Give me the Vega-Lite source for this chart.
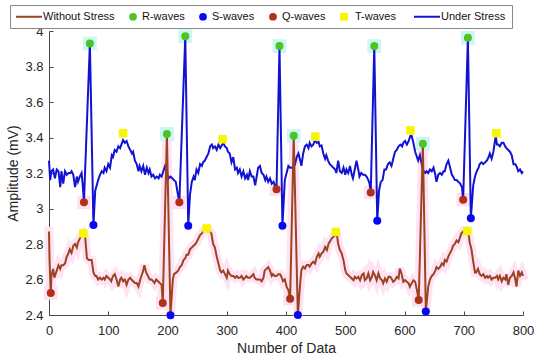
{
  "$schema": "https://vega.github.io/schema/vega-lite/v6.json",
  "width": 474,
  "height": 284,
  "autosize": "none",
  "padding": {"left": 49, "top": 31, "right": 27, "bottom": 45},
  "background": "white",
  "config": {
    "view": {"stroke": null},
    "font": "Liberation Sans",
    "axis": {
      "grid": false,
      "labelFont": "Liberation Sans",
      "titleFont": "Liberation Sans",
      "labelFontSize": 13,
      "titleFontSize": 14,
      "titleFontWeight": "normal",
      "labelColor": "#262626",
      "titleColor": "#262626",
      "domainColor": "#4a4a4a",
      "tickColor": "#4a4a4a",
      "tickSize": -4,
      "labelFlush": false
    }
  },
  "datasets": {
    "lines": [
      {"series":"Under Stress","x":0,"y":3.27},{"series":"Under Stress","x":2,"y":3.16},{"series":"Under Stress","x":4,"y":3.21},{"series":"Under Stress","x":7,"y":3.22},{"series":"Under Stress","x":10,"y":3.17},{"series":"Under Stress","x":13,"y":3.22},{"series":"Under Stress","x":16,"y":3.21},{"series":"Under Stress","x":19,"y":3.12},{"series":"Under Stress","x":21,"y":3.21},{"series":"Under Stress","x":24,"y":3.14},{"series":"Under Stress","x":27,"y":3.21},{"series":"Under Stress","x":30,"y":3.19},{"series":"Under Stress","x":33,"y":3.2},{"series":"Under Stress","x":36,"y":3.2},{"series":"Under Stress","x":38,"y":3.21},{"series":"Under Stress","x":41,"y":3.19},{"series":"Under Stress","x":44,"y":3.12},{"series":"Under Stress","x":47,"y":3.18},{"series":"Under Stress","x":49,"y":3.15},{"series":"Under Stress","x":52,"y":3.18},{"series":"Under Stress","x":55,"y":3.2},{"series":"Under Stress","x":57,"y":3.13},{"series":"Under Stress","x":59,"y":3.035},{"series":"Under Stress","x":69,"y":3.93},{"series":"Under Stress","x":75,"y":2.907},{"series":"Under Stress","x":78,"y":3.1},{"series":"Under Stress","x":83,"y":3.16},{"series":"Under Stress","x":86,"y":3.19},{"series":"Under Stress","x":89,"y":3.21},{"series":"Under Stress","x":92,"y":3.2},{"series":"Under Stress","x":94,"y":3.23},{"series":"Under Stress","x":97,"y":3.21},{"series":"Under Stress","x":100,"y":3.25},{"series":"Under Stress","x":103,"y":3.23},{"series":"Under Stress","x":106,"y":3.3},{"series":"Under Stress","x":108,"y":3.29},{"series":"Under Stress","x":111,"y":3.33},{"series":"Under Stress","x":114,"y":3.32},{"series":"Under Stress","x":117,"y":3.35},{"series":"Under Stress","x":120,"y":3.34},{"series":"Under Stress","x":125,"y":3.386},{"series":"Under Stress","x":128,"y":3.37},{"series":"Under Stress","x":131,"y":3.38},{"series":"Under Stress","x":134,"y":3.35},{"series":"Under Stress","x":137,"y":3.33},{"series":"Under Stress","x":140,"y":3.31},{"series":"Under Stress","x":142,"y":3.32},{"series":"Under Stress","x":145,"y":3.27},{"series":"Under Stress","x":148,"y":3.25},{"series":"Under Stress","x":151,"y":3.21},{"series":"Under Stress","x":153,"y":3.24},{"series":"Under Stress","x":156,"y":3.21},{"series":"Under Stress","x":159,"y":3.24},{"series":"Under Stress","x":162,"y":3.19},{"series":"Under Stress","x":165,"y":3.23},{"series":"Under Stress","x":168,"y":3.2},{"series":"Under Stress","x":170,"y":3.22},{"series":"Under Stress","x":173,"y":3.18},{"series":"Under Stress","x":176,"y":3.19},{"series":"Under Stress","x":179,"y":3.17},{"series":"Under Stress","x":182,"y":3.18},{"series":"Under Stress","x":185,"y":3.17},{"series":"Under Stress","x":187,"y":3.19},{"series":"Under Stress","x":190,"y":3.18},{"series":"Under Stress","x":193,"y":3.21},{"series":"Under Stress","x":196,"y":3.24},{"series":"Under Stress","x":199,"y":3.2},{"series":"Under Stress","x":202,"y":3.17},{"series":"Under Stress","x":205,"y":3.18},{"series":"Under Stress","x":208,"y":3.17},{"series":"Under Stress","x":211,"y":3.16},{"series":"Under Stress","x":214,"y":3.15},{"series":"Under Stress","x":217,"y":3.09},{"series":"Under Stress","x":220,"y":3.035},{"series":"Under Stress","x":230,"y":3.97},{"series":"Under Stress","x":235,"y":2.903},{"series":"Under Stress","x":238,"y":3.08},{"series":"Under Stress","x":241,"y":3.15},{"series":"Under Stress","x":244,"y":3.18},{"series":"Under Stress","x":246,"y":3.16},{"series":"Under Stress","x":249,"y":3.22},{"series":"Under Stress","x":252,"y":3.2},{"series":"Under Stress","x":255,"y":3.25},{"series":"Under Stress","x":258,"y":3.24},{"series":"Under Stress","x":260,"y":3.26},{"series":"Under Stress","x":263,"y":3.27},{"series":"Under Stress","x":266,"y":3.29},{"series":"Under Stress","x":269,"y":3.31},{"series":"Under Stress","x":272,"y":3.35},{"series":"Under Stress","x":275,"y":3.36},{"series":"Under Stress","x":277,"y":3.34},{"series":"Under Stress","x":280,"y":3.35},{"series":"Under Stress","x":283,"y":3.33},{"series":"Under Stress","x":286,"y":3.36},{"series":"Under Stress","x":289,"y":3.34},{"series":"Under Stress","x":294,"y":3.37},{"series":"Under Stress","x":297,"y":3.35},{"series":"Under Stress","x":300,"y":3.34},{"series":"Under Stress","x":302,"y":3.32},{"series":"Under Stress","x":305,"y":3.31},{"series":"Under Stress","x":308,"y":3.26},{"series":"Under Stress","x":311,"y":3.29},{"series":"Under Stress","x":314,"y":3.22},{"series":"Under Stress","x":317,"y":3.23},{"series":"Under Stress","x":319,"y":3.2},{"series":"Under Stress","x":322,"y":3.22},{"series":"Under Stress","x":325,"y":3.18},{"series":"Under Stress","x":328,"y":3.21},{"series":"Under Stress","x":331,"y":3.17},{"series":"Under Stress","x":334,"y":3.19},{"series":"Under Stress","x":336,"y":3.16},{"series":"Under Stress","x":339,"y":3.21},{"series":"Under Stress","x":342,"y":3.18},{"series":"Under Stress","x":345,"y":3.18},{"series":"Under Stress","x":348,"y":3.13},{"series":"Under Stress","x":351,"y":3.19},{"series":"Under Stress","x":353,"y":3.23},{"series":"Under Stress","x":356,"y":3.24},{"series":"Under Stress","x":359,"y":3.2},{"series":"Under Stress","x":362,"y":3.19},{"series":"Under Stress","x":365,"y":3.16},{"series":"Under Stress","x":367,"y":3.18},{"series":"Under Stress","x":370,"y":3.15},{"series":"Under Stress","x":373,"y":3.17},{"series":"Under Stress","x":376,"y":3.14},{"series":"Under Stress","x":379,"y":3.15},{"series":"Under Stress","x":381,"y":3.13},{"series":"Under Stress","x":384,"y":3.108},{"series":"Under Stress","x":389,"y":3.915},{"series":"Under Stress","x":394,"y":2.903},{"series":"Under Stress","x":398,"y":3.16},{"series":"Under Stress","x":401,"y":3.2},{"series":"Under Stress","x":404,"y":3.24},{"series":"Under Stress","x":407,"y":3.23},{"series":"Under Stress","x":410,"y":3.23},{"series":"Under Stress","x":413,"y":3.24},{"series":"Under Stress","x":415,"y":3.245},{"series":"Under Stress","x":418,"y":3.29},{"series":"Under Stress","x":421,"y":3.31},{"series":"Under Stress","x":424,"y":3.27},{"series":"Under Stress","x":426,"y":3.24},{"series":"Under Stress","x":429,"y":3.31},{"series":"Under Stress","x":432,"y":3.35},{"series":"Under Stress","x":435,"y":3.36},{"series":"Under Stress","x":438,"y":3.34},{"series":"Under Stress","x":440,"y":3.37},{"series":"Under Stress","x":443,"y":3.35},{"series":"Under Stress","x":446,"y":3.36},{"series":"Under Stress","x":449,"y":3.386},{"series":"Under Stress","x":452,"y":3.37},{"series":"Under Stress","x":455,"y":3.375},{"series":"Under Stress","x":457,"y":3.35},{"series":"Under Stress","x":460,"y":3.355},{"series":"Under Stress","x":463,"y":3.31},{"series":"Under Stress","x":466,"y":3.28},{"series":"Under Stress","x":468,"y":3.3},{"series":"Under Stress","x":471,"y":3.27},{"series":"Under Stress","x":474,"y":3.25},{"series":"Under Stress","x":477,"y":3.24},{"series":"Under Stress","x":480,"y":3.23},{"series":"Under Stress","x":483,"y":3.22},{"series":"Under Stress","x":485,"y":3.2},{"series":"Under Stress","x":488,"y":3.27},{"series":"Under Stress","x":491,"y":3.21},{"series":"Under Stress","x":494,"y":3.2},{"series":"Under Stress","x":497,"y":3.23},{"series":"Under Stress","x":500,"y":3.19},{"series":"Under Stress","x":502,"y":3.22},{"series":"Under Stress","x":505,"y":3.2},{"series":"Under Stress","x":508,"y":3.24},{"series":"Under Stress","x":511,"y":3.19},{"series":"Under Stress","x":513,"y":3.17},{"series":"Under Stress","x":516,"y":3.22},{"series":"Under Stress","x":519,"y":3.27},{"series":"Under Stress","x":522,"y":3.22},{"series":"Under Stress","x":524,"y":3.18},{"series":"Under Stress","x":527,"y":3.2},{"series":"Under Stress","x":530,"y":3.19},{"series":"Under Stress","x":533,"y":3.19},{"series":"Under Stress","x":536,"y":3.18},{"series":"Under Stress","x":539,"y":3.16},{"series":"Under Stress","x":541,"y":3.14},{"series":"Under Stress","x":543,"y":3.09},{"series":"Under Stress","x":549,"y":3.915},{"series":"Under Stress","x":554,"y":2.931},{"series":"Under Stress","x":557,"y":3.1},{"series":"Under Stress","x":560,"y":3.15},{"series":"Under Stress","x":563,"y":3.16},{"series":"Under Stress","x":566,"y":3.22},{"series":"Under Stress","x":569,"y":3.22},{"series":"Under Stress","x":572,"y":3.25},{"series":"Under Stress","x":575,"y":3.26},{"series":"Under Stress","x":578,"y":3.24},{"series":"Under Stress","x":581,"y":3.28},{"series":"Under Stress","x":584,"y":3.32},{"series":"Under Stress","x":587,"y":3.33},{"series":"Under Stress","x":590,"y":3.35},{"series":"Under Stress","x":593,"y":3.36},{"series":"Under Stress","x":596,"y":3.35},{"series":"Under Stress","x":598,"y":3.37},{"series":"Under Stress","x":601,"y":3.38},{"series":"Under Stress","x":604,"y":3.36},{"series":"Under Stress","x":607,"y":3.38},{"series":"Under Stress","x":610,"y":3.41},{"series":"Under Stress","x":612,"y":3.41},{"series":"Under Stress","x":615,"y":3.37},{"series":"Under Stress","x":618,"y":3.32},{"series":"Under Stress","x":620,"y":3.3},{"series":"Under Stress","x":623,"y":3.27},{"series":"Under Stress","x":626,"y":3.3},{"series":"Under Stress","x":629,"y":3.25},{"series":"Under Stress","x":632,"y":3.21},{"series":"Under Stress","x":635,"y":3.2},{"series":"Under Stress","x":637,"y":3.21},{"series":"Under Stress","x":640,"y":3.2},{"series":"Under Stress","x":643,"y":3.22},{"series":"Under Stress","x":646,"y":3.21},{"series":"Under Stress","x":649,"y":3.23},{"series":"Under Stress","x":652,"y":3.19},{"series":"Under Stress","x":654,"y":3.15},{"series":"Under Stress","x":657,"y":3.19},{"series":"Under Stress","x":660,"y":3.2},{"series":"Under Stress","x":663,"y":3.19},{"series":"Under Stress","x":666,"y":3.21},{"series":"Under Stress","x":668,"y":3.21},{"series":"Under Stress","x":671,"y":3.25},{"series":"Under Stress","x":674,"y":3.27},{"series":"Under Stress","x":677,"y":3.23},{"series":"Under Stress","x":680,"y":3.19},{"series":"Under Stress","x":682,"y":3.18},{"series":"Under Stress","x":685,"y":3.16},{"series":"Under Stress","x":688,"y":3.16},{"series":"Under Stress","x":691,"y":3.15},{"series":"Under Stress","x":694,"y":3.14},{"series":"Under Stress","x":697,"y":3.12},{"series":"Under Stress","x":699,"y":3.05},{"series":"Under Stress","x":707,"y":3.962},{"series":"Under Stress","x":712,"y":2.945},{"series":"Under Stress","x":716,"y":3.13},{"series":"Under Stress","x":719,"y":3.18},{"series":"Under Stress","x":722,"y":3.21},{"series":"Under Stress","x":725,"y":3.23},{"series":"Under Stress","x":727,"y":3.25},{"series":"Under Stress","x":730,"y":3.26},{"series":"Under Stress","x":733,"y":3.25},{"series":"Under Stress","x":736,"y":3.26},{"series":"Under Stress","x":739,"y":3.27},{"series":"Under Stress","x":742,"y":3.29},{"series":"Under Stress","x":744,"y":3.31},{"series":"Under Stress","x":747,"y":3.28},{"series":"Under Stress","x":750,"y":3.32},{"series":"Under Stress","x":754,"y":3.41},{"series":"Under Stress","x":756,"y":3.36},{"series":"Under Stress","x":758,"y":3.36},{"series":"Under Stress","x":761,"y":3.35},{"series":"Under Stress","x":764,"y":3.37},{"series":"Under Stress","x":767,"y":3.37},{"series":"Under Stress","x":770,"y":3.35},{"series":"Under Stress","x":772,"y":3.34},{"series":"Under Stress","x":775,"y":3.33},{"series":"Under Stress","x":778,"y":3.32},{"series":"Under Stress","x":781,"y":3.3},{"series":"Under Stress","x":784,"y":3.25},{"series":"Under Stress","x":787,"y":3.25},{"series":"Under Stress","x":790,"y":3.23},{"series":"Under Stress","x":792,"y":3.21},{"series":"Under Stress","x":795,"y":3.22},{"series":"Under Stress","x":798,"y":3.2},{"series":"Under Stress","x":800,"y":3.21},
      {"series":"Without Stress","x":0,"y":2.87},{"series":"Without Stress","x":1,"y":2.7},{"series":"Without Stress","x":3,"y":2.524},{"series":"Without Stress","x":4,"y":2.62},{"series":"Without Stress","x":7,"y":2.66},{"series":"Without Stress","x":9,"y":2.61},{"series":"Without Stress","x":13,"y":2.65},{"series":"Without Stress","x":16,"y":2.68},{"series":"Without Stress","x":19,"y":2.66},{"series":"Without Stress","x":21,"y":2.68},{"series":"Without Stress","x":24,"y":2.68},{"series":"Without Stress","x":27,"y":2.69},{"series":"Without Stress","x":30,"y":2.73},{"series":"Without Stress","x":32,"y":2.74},{"series":"Without Stress","x":35,"y":2.77},{"series":"Without Stress","x":38,"y":2.75},{"series":"Without Stress","x":41,"y":2.79},{"series":"Without Stress","x":44,"y":2.8},{"series":"Without Stress","x":47,"y":2.78},{"series":"Without Stress","x":49,"y":2.81},{"series":"Without Stress","x":52,"y":2.83},{"series":"Without Stress","x":55,"y":2.85},{"series":"Without Stress","x":58,"y":2.86},{"series":"Without Stress","x":61,"y":2.84},{"series":"Without Stress","x":64,"y":2.72},{"series":"Without Stress","x":67,"y":2.71},{"series":"Without Stress","x":69,"y":2.71},{"series":"Without Stress","x":72,"y":2.71},{"series":"Without Stress","x":75,"y":2.64},{"series":"Without Stress","x":78,"y":2.62},{"series":"Without Stress","x":80,"y":2.62},{"series":"Without Stress","x":83,"y":2.6},{"series":"Without Stress","x":86,"y":2.61},{"series":"Without Stress","x":89,"y":2.6},{"series":"Without Stress","x":92,"y":2.61},{"series":"Without Stress","x":94,"y":2.6},{"series":"Without Stress","x":97,"y":2.62},{"series":"Without Stress","x":100,"y":2.61},{"series":"Without Stress","x":103,"y":2.6},{"series":"Without Stress","x":105,"y":2.59},{"series":"Without Stress","x":108,"y":2.62},{"series":"Without Stress","x":111,"y":2.63},{"series":"Without Stress","x":114,"y":2.6},{"series":"Without Stress","x":117,"y":2.56},{"series":"Without Stress","x":120,"y":2.6},{"series":"Without Stress","x":122,"y":2.61},{"series":"Without Stress","x":125,"y":2.59},{"series":"Without Stress","x":128,"y":2.6},{"series":"Without Stress","x":131,"y":2.57},{"series":"Without Stress","x":134,"y":2.6},{"series":"Without Stress","x":137,"y":2.61},{"series":"Without Stress","x":139,"y":2.6},{"series":"Without Stress","x":142,"y":2.59},{"series":"Without Stress","x":145,"y":2.58},{"series":"Without Stress","x":148,"y":2.58},{"series":"Without Stress","x":151,"y":2.56},{"series":"Without Stress","x":154,"y":2.6},{"series":"Without Stress","x":156,"y":2.62},{"series":"Without Stress","x":159,"y":2.65},{"series":"Without Stress","x":161,"y":2.68},{"series":"Without Stress","x":164,"y":2.64},{"series":"Without Stress","x":167,"y":2.62},{"series":"Without Stress","x":170,"y":2.6},{"series":"Without Stress","x":173,"y":2.6},{"series":"Without Stress","x":176,"y":2.59},{"series":"Without Stress","x":178,"y":2.58},{"series":"Without Stress","x":181,"y":2.6},{"series":"Without Stress","x":184,"y":2.59},{"series":"Without Stress","x":187,"y":2.58},{"series":"Without Stress","x":190,"y":2.57},{"series":"Without Stress","x":192,"y":2.468},{"series":"Without Stress","x":199,"y":3.42},{"series":"Without Stress","x":205,"y":2.398},{"series":"Without Stress","x":209,"y":2.6},{"series":"Without Stress","x":211,"y":2.63},{"series":"Without Stress","x":215,"y":2.64},{"series":"Without Stress","x":218,"y":2.65},{"series":"Without Stress","x":221,"y":2.67},{"series":"Without Stress","x":224,"y":2.68},{"series":"Without Stress","x":227,"y":2.71},{"series":"Without Stress","x":230,"y":2.72},{"series":"Without Stress","x":232,"y":2.74},{"series":"Without Stress","x":235,"y":2.74},{"series":"Without Stress","x":238,"y":2.77},{"series":"Without Stress","x":241,"y":2.78},{"series":"Without Stress","x":244,"y":2.79},{"series":"Without Stress","x":247,"y":2.8},{"series":"Without Stress","x":249,"y":2.81},{"series":"Without Stress","x":252,"y":2.83},{"series":"Without Stress","x":255,"y":2.85},{"series":"Without Stress","x":258,"y":2.86},{"series":"Without Stress","x":260,"y":2.87},{"series":"Without Stress","x":266,"y":2.88},{"series":"Without Stress","x":269,"y":2.88},{"series":"Without Stress","x":272,"y":2.87},{"series":"Without Stress","x":274,"y":2.86},{"series":"Without Stress","x":277,"y":2.8},{"series":"Without Stress","x":280,"y":2.78},{"series":"Without Stress","x":283,"y":2.73},{"series":"Without Stress","x":286,"y":2.69},{"series":"Without Stress","x":289,"y":2.65},{"series":"Without Stress","x":291,"y":2.64},{"series":"Without Stress","x":294,"y":2.65},{"series":"Without Stress","x":297,"y":2.63},{"series":"Without Stress","x":300,"y":2.61},{"series":"Without Stress","x":302,"y":2.65},{"series":"Without Stress","x":305,"y":2.63},{"series":"Without Stress","x":308,"y":2.62},{"series":"Without Stress","x":311,"y":2.62},{"series":"Without Stress","x":314,"y":2.61},{"series":"Without Stress","x":317,"y":2.62},{"series":"Without Stress","x":319,"y":2.61},{"series":"Without Stress","x":322,"y":2.61},{"series":"Without Stress","x":325,"y":2.62},{"series":"Without Stress","x":328,"y":2.6},{"series":"Without Stress","x":331,"y":2.61},{"series":"Without Stress","x":333,"y":2.62},{"series":"Without Stress","x":336,"y":2.61},{"series":"Without Stress","x":339,"y":2.61},{"series":"Without Stress","x":342,"y":2.62},{"series":"Without Stress","x":345,"y":2.63},{"series":"Without Stress","x":347,"y":2.61},{"series":"Without Stress","x":350,"y":2.6},{"series":"Without Stress","x":353,"y":2.6},{"series":"Without Stress","x":356,"y":2.6},{"series":"Without Stress","x":359,"y":2.59},{"series":"Without Stress","x":362,"y":2.61},{"series":"Without Stress","x":364,"y":2.65},{"series":"Without Stress","x":367,"y":2.66},{"series":"Without Stress","x":370,"y":2.67},{"series":"Without Stress","x":373,"y":2.65},{"series":"Without Stress","x":376,"y":2.62},{"series":"Without Stress","x":378,"y":2.63},{"series":"Without Stress","x":381,"y":2.62},{"series":"Without Stress","x":384,"y":2.62},{"series":"Without Stress","x":387,"y":2.63},{"series":"Without Stress","x":390,"y":2.63},{"series":"Without Stress","x":393,"y":2.61},{"series":"Without Stress","x":395,"y":2.59},{"series":"Without Stress","x":398,"y":2.6},{"series":"Without Stress","x":401,"y":2.56},{"series":"Without Stress","x":404,"y":2.54},{"series":"Without Stress","x":407,"y":2.492},{"series":"Without Stress","x":413,"y":3.41},{"series":"Without Stress","x":420,"y":2.398},{"series":"Without Stress","x":424,"y":2.58},{"series":"Without Stress","x":426,"y":2.653},{"series":"Without Stress","x":429,"y":2.672},{"series":"Without Stress","x":432,"y":2.662},{"series":"Without Stress","x":435,"y":2.681},{"series":"Without Stress","x":438,"y":2.681},{"series":"Without Stress","x":440,"y":2.672},{"series":"Without Stress","x":443,"y":2.69},{"series":"Without Stress","x":446,"y":2.7},{"series":"Without Stress","x":449,"y":2.69},{"series":"Without Stress","x":452,"y":2.728},{"series":"Without Stress","x":455,"y":2.747},{"series":"Without Stress","x":457,"y":2.728},{"series":"Without Stress","x":460,"y":2.747},{"series":"Without Stress","x":463,"y":2.756},{"series":"Without Stress","x":466,"y":2.784},{"series":"Without Stress","x":469,"y":2.766},{"series":"Without Stress","x":472,"y":2.803},{"series":"Without Stress","x":474,"y":2.813},{"series":"Without Stress","x":477,"y":2.831},{"series":"Without Stress","x":480,"y":2.841},{"series":"Without Stress","x":483,"y":2.85},{"series":"Without Stress","x":486,"y":2.85},{"series":"Without Stress","x":488,"y":2.803},{"series":"Without Stress","x":491,"y":2.766},{"series":"Without Stress","x":494,"y":2.747},{"series":"Without Stress","x":497,"y":2.709},{"series":"Without Stress","x":500,"y":2.653},{"series":"Without Stress","x":502,"y":2.634},{"series":"Without Stress","x":505,"y":2.625},{"series":"Without Stress","x":508,"y":2.615},{"series":"Without Stress","x":511,"y":2.606},{"series":"Without Stress","x":514,"y":2.596},{"series":"Without Stress","x":516,"y":2.615},{"series":"Without Stress","x":519,"y":2.606},{"series":"Without Stress","x":522,"y":2.615},{"series":"Without Stress","x":525,"y":2.596},{"series":"Without Stress","x":528,"y":2.625},{"series":"Without Stress","x":531,"y":2.634},{"series":"Without Stress","x":533,"y":2.596},{"series":"Without Stress","x":536,"y":2.606},{"series":"Without Stress","x":539,"y":2.634},{"series":"Without Stress","x":542,"y":2.596},{"series":"Without Stress","x":545,"y":2.615},{"series":"Without Stress","x":547,"y":2.643},{"series":"Without Stress","x":550,"y":2.625},{"series":"Without Stress","x":553,"y":2.596},{"series":"Without Stress","x":556,"y":2.634},{"series":"Without Stress","x":559,"y":2.606},{"series":"Without Stress","x":562,"y":2.596},{"series":"Without Stress","x":564,"y":2.578},{"series":"Without Stress","x":567,"y":2.606},{"series":"Without Stress","x":570,"y":2.587},{"series":"Without Stress","x":573,"y":2.615},{"series":"Without Stress","x":576,"y":2.615},{"series":"Without Stress","x":578,"y":2.606},{"series":"Without Stress","x":581,"y":2.587},{"series":"Without Stress","x":584,"y":2.596},{"series":"Without Stress","x":587,"y":2.615},{"series":"Without Stress","x":590,"y":2.606},{"series":"Without Stress","x":592,"y":2.662},{"series":"Without Stress","x":595,"y":2.634},{"series":"Without Stress","x":598,"y":2.587},{"series":"Without Stress","x":601,"y":2.596},{"series":"Without Stress","x":604,"y":2.587},{"series":"Without Stress","x":607,"y":2.578},{"series":"Without Stress","x":609,"y":2.559},{"series":"Without Stress","x":612,"y":2.578},{"series":"Without Stress","x":615,"y":2.596},{"series":"Without Stress","x":618,"y":2.587},{"series":"Without Stress","x":621,"y":2.54},{"series":"Without Stress","x":624,"y":2.484},{"series":"Without Stress","x":631,"y":3.365},{"series":"Without Stress","x":636,"y":2.42},{"series":"Without Stress","x":640,"y":2.56},{"series":"Without Stress","x":643,"y":2.6},{"series":"Without Stress","x":646,"y":2.62},{"series":"Without Stress","x":649,"y":2.63},{"series":"Without Stress","x":652,"y":2.65},{"series":"Without Stress","x":654,"y":2.67},{"series":"Without Stress","x":657,"y":2.66},{"series":"Without Stress","x":660,"y":2.67},{"series":"Without Stress","x":663,"y":2.69},{"series":"Without Stress","x":666,"y":2.68},{"series":"Without Stress","x":668,"y":2.71},{"series":"Without Stress","x":671,"y":2.7},{"series":"Without Stress","x":674,"y":2.73},{"series":"Without Stress","x":677,"y":2.75},{"series":"Without Stress","x":680,"y":2.77},{"series":"Without Stress","x":682,"y":2.79},{"series":"Without Stress","x":685,"y":2.8},{"series":"Without Stress","x":688,"y":2.82},{"series":"Without Stress","x":691,"y":2.81},{"series":"Without Stress","x":694,"y":2.84},{"series":"Without Stress","x":696,"y":2.86},{"series":"Without Stress","x":699,"y":2.87},{"series":"Without Stress","x":702,"y":2.86},{"series":"Without Stress","x":705,"y":2.87},{"series":"Without Stress","x":708,"y":2.86},{"series":"Without Stress","x":710,"y":2.81},{"series":"Without Stress","x":713,"y":2.77},{"series":"Without Stress","x":716,"y":2.7},{"series":"Without Stress","x":719,"y":2.64},{"series":"Without Stress","x":721,"y":2.64},{"series":"Without Stress","x":724,"y":2.66},{"series":"Without Stress","x":727,"y":2.63},{"series":"Without Stress","x":730,"y":2.62},{"series":"Without Stress","x":733,"y":2.63},{"series":"Without Stress","x":736,"y":2.61},{"series":"Without Stress","x":739,"y":2.62},{"series":"Without Stress","x":741,"y":2.61},{"series":"Without Stress","x":744,"y":2.62},{"series":"Without Stress","x":747,"y":2.6},{"series":"Without Stress","x":750,"y":2.61},{"series":"Without Stress","x":753,"y":2.61},{"series":"Without Stress","x":756,"y":2.62},{"series":"Without Stress","x":758,"y":2.6},{"series":"Without Stress","x":761,"y":2.62},{"series":"Without Stress","x":764,"y":2.59},{"series":"Without Stress","x":767,"y":2.61},{"series":"Without Stress","x":770,"y":2.6},{"series":"Without Stress","x":772,"y":2.63},{"series":"Without Stress","x":775,"y":2.57},{"series":"Without Stress","x":778,"y":2.61},{"series":"Without Stress","x":781,"y":2.62},{"series":"Without Stress","x":784,"y":2.64},{"series":"Without Stress","x":787,"y":2.6},{"series":"Without Stress","x":789,"y":2.56},{"series":"Without Stress","x":792,"y":2.65},{"series":"Without Stress","x":795,"y":2.62},{"series":"Without Stress","x":798,"y":2.64},{"series":"Without Stress","x":800,"y":2.62}
    ],
    "markers": [
      {"series":"R-waves","x":69,"y":3.93},{"series":"R-waves","x":230,"y":3.97},{"series":"R-waves","x":389,"y":3.915},{"series":"R-waves","x":549,"y":3.915},{"series":"R-waves","x":707,"y":3.962},{"series":"R-waves","x":199,"y":3.42},{"series":"R-waves","x":413,"y":3.41},{"series":"R-waves","x":631,"y":3.365},
      {"series":"S-waves","x":75,"y":2.907},{"series":"S-waves","x":235,"y":2.903},{"series":"S-waves","x":394,"y":2.903},{"series":"S-waves","x":554,"y":2.931},{"series":"S-waves","x":712,"y":2.945},{"series":"S-waves","x":205,"y":2.398},{"series":"S-waves","x":420,"y":2.4},{"series":"S-waves","x":636,"y":2.42},
      {"series":"Q-waves","x":59,"y":3.035},{"series":"Q-waves","x":220,"y":3.035},{"series":"Q-waves","x":384,"y":3.108},{"series":"Q-waves","x":543,"y":3.09},{"series":"Q-waves","x":699,"y":3.05},{"series":"Q-waves","x":3,"y":2.524},{"series":"Q-waves","x":192,"y":2.468},{"series":"Q-waves","x":407,"y":2.492},{"series":"Q-waves","x":624,"y":2.485},
      {"series":"T-waves","x":125,"y":3.424},{"series":"T-waves","x":293,"y":3.39},{"series":"T-waves","x":449.5,"y":3.405},{"series":"T-waves","x":610,"y":3.44},{"series":"T-waves","x":755,"y":3.424},{"series":"T-waves","x":58,"y":2.86},{"series":"T-waves","x":266,"y":2.888},{"series":"T-waves","x":484,"y":2.868},{"series":"T-waves","x":706,"y":2.873}
    ]
  },
  "encoding": {
    "x": {"field": "x", "type": "quantitative", "scale": {"domain": [0, 800], "nice": false, "zero": false},
      "axis": {"title": "Number of Data", "values": [0,100,200,300,400,500,600,700,800], "labelPadding": 13, "titlePadding": 4}},
    "y": {"field": "y", "type": "quantitative", "scale": {"domain": [2.4, 4], "nice": false, "zero": false},
      "axis": {"title": "Amplitude (mV)", "values": [2.4,2.6,2.8,3,3.2,3.4,3.6,3.8,4], "format": ".1~f", "labelPadding": 10, "titlePadding": 4}}
  },
  "layer": [
    {
      "data": {"name": "lines"},
      "transform": [{"filter": "datum.series === 'Without Stress'"}],
      "mark": {"type": "line", "strokeWidth": 9, "color": "#ffe3f5", "strokeJoin": "miter", "strokeCap": "square"}
    },
    {
      "data": {"name": "markers"},
      "transform": [{"filter": "datum.series === 'R-waves'"}],
      "mark": {"type": "square", "size": 190, "color": "#cdf5f3", "opacity": 1}
    },
    {
      "data": {"name": "markers"},
      "transform": [{"filter": "datum.series === 'Q-waves'"}],
      "mark": {"type": "square", "size": 180, "color": "#ffdff2", "opacity": 1}
    },
    {
      "data": {"name": "lines"},
      "mark": {"type": "line", "strokeWidth": 2},
      "encoding": {
        "detail": {"field": "series"},
        "color": {
          "field": "series", "type": "nominal",
          "scale": {
            "domain": ["Without Stress", "R-waves", "S-waves", "Q-waves", "T-waves", "Under Stress"],
            "range": ["#9c4320", "#4cc424", "#0808f0", "#b0301a", "#f6f600", "#1212d2"]
          },
          "legend": {
            "title": null,
            "orient": "none",
            "legendX": -39,
            "legendY": -26,
            "direction": "horizontal",
            "columns": 6,
            "labelFont": "Liberation Sans",
            "labelFontSize": 11,
            "labelColor": "#111",
            "columnPadding": 14,
            "padding": 6,
            "strokeColor": "#888",
            "fillColor": "#ffffff",
            "encode": {
              "symbols": {
                "update": {
                  "x": {"signal": "(datum.value === 'Without Stress' || datum.value === 'Under Stress') ? 13 : 4"},
                  "shape": {"signal": "(datum.value === 'Without Stress' || datum.value === 'Under Stress') ? 'stroke' : (datum.value === 'T-waves' ? 'square' : 'circle')"},
                  "size": {"signal": "(datum.value === 'Without Stress' || datum.value === 'Under Stress') ? 676 : 60"},
                  "fill": {"signal": "(datum.value === 'Without Stress' || datum.value === 'Under Stress') ? 'transparent' : scale('color', datum.value)"},
                  "stroke": {"signal": "scale('color', datum.value)"},
                  "strokeWidth": {"signal": "(datum.value === 'Without Stress' || datum.value === 'Under Stress') ? 2 : 0"},
                  "opacity": {"value": 1}
                }
              },
              "labels": {
                "update": {
                  "x": {"signal": "(datum.value === 'Without Stress' || datum.value === 'Under Stress') ? 27 : (datum.value === 'T-waves' ? 15 : 13)"}
                }
              }
            }
          }
        }
      }
    },
    {
      "data": {"name": "markers"},
      "transform": [{"filter": "datum.series !== 'T-waves'"}],
      "mark": {"type": "circle", "size": 64, "opacity": 1},
      "encoding": {"color": {"field": "series", "type": "nominal"}}
    },
    {
      "data": {"name": "markers"},
      "transform": [{"filter": "datum.series === 'T-waves'"}],
      "mark": {"type": "square", "size": 72, "opacity": 1},
      "encoding": {"color": {"field": "series", "type": "nominal"}}
    }
  ]
}
